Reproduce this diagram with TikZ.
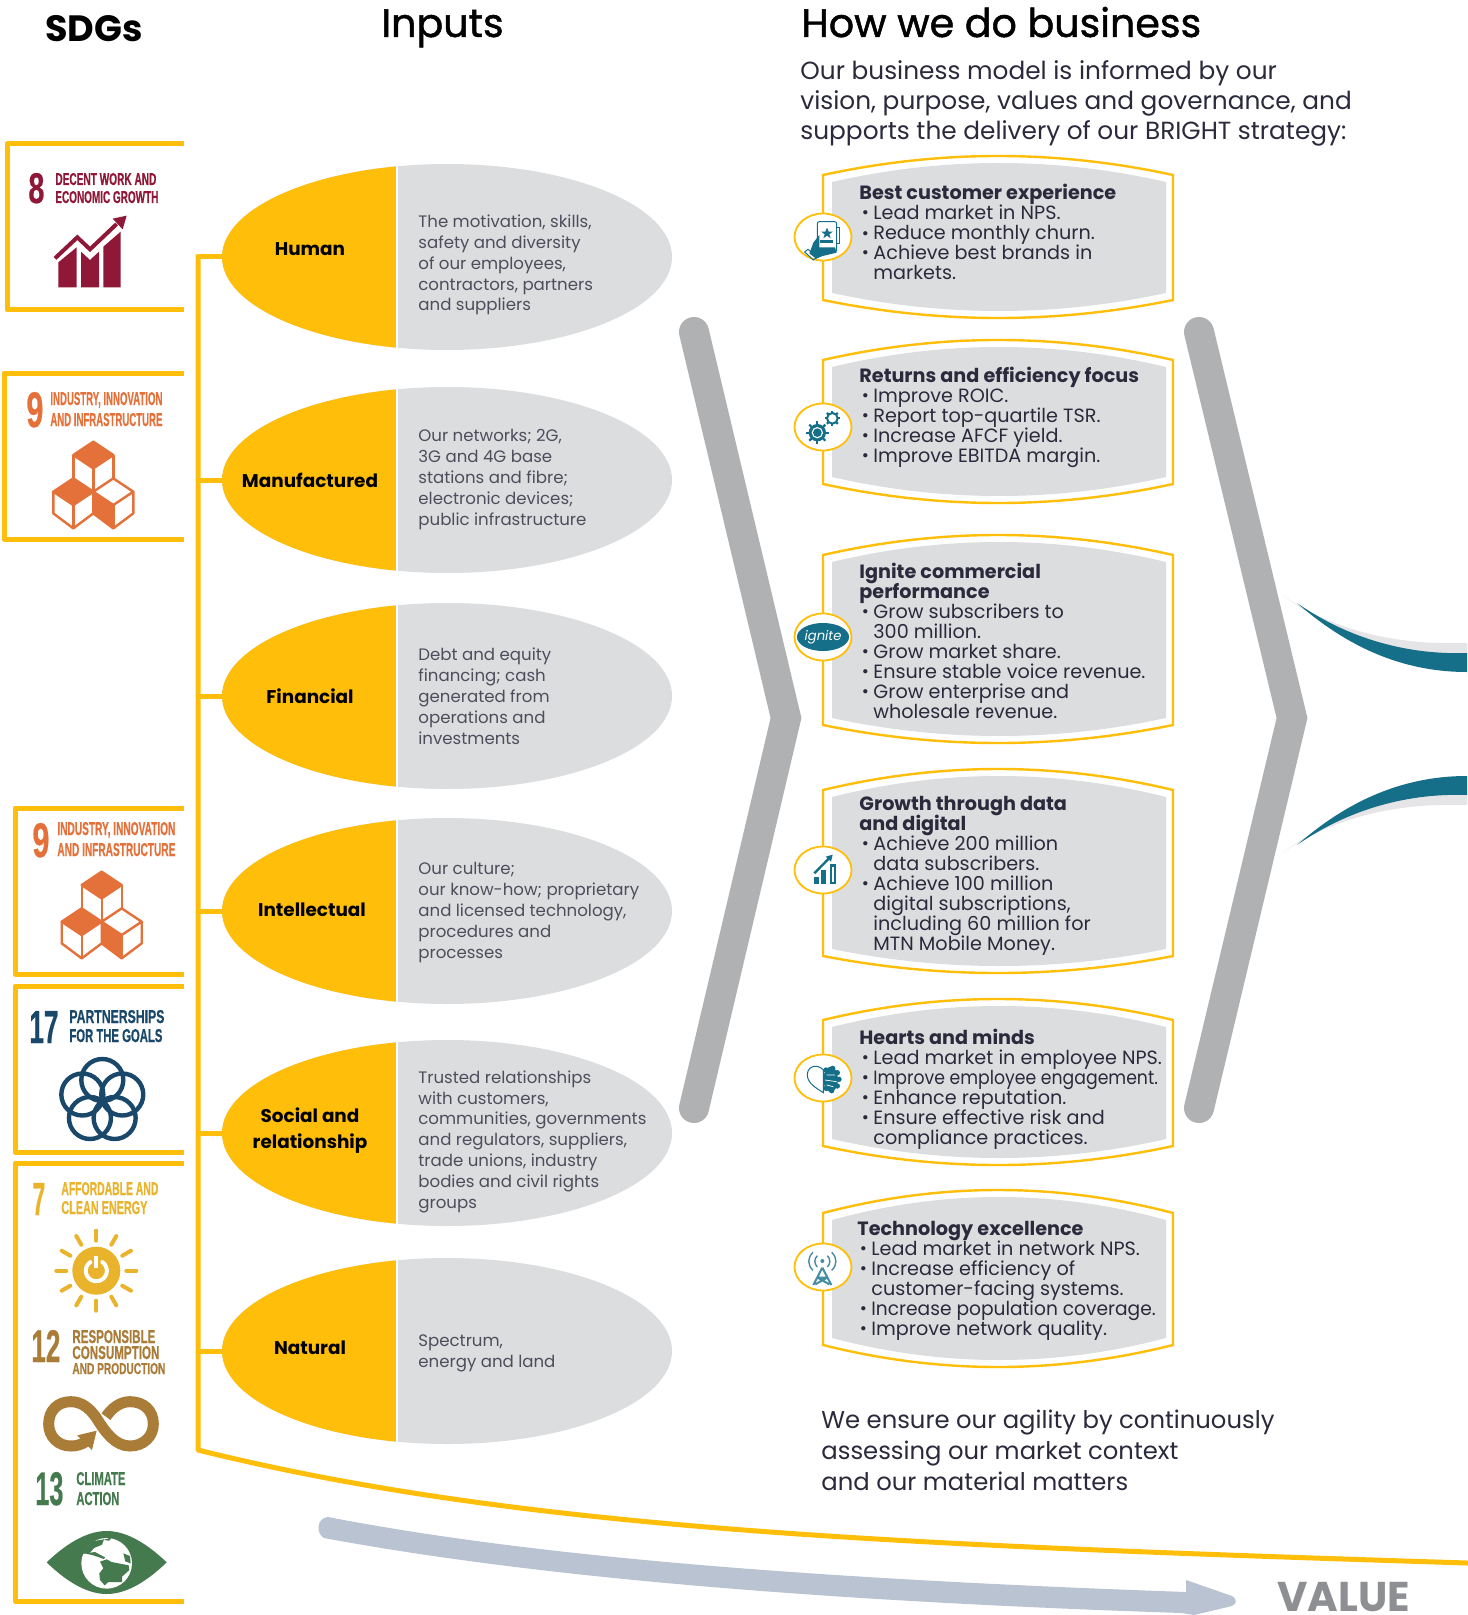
\documentclass[tikz,border=0pt]{standalone}
\usepackage{fontspec}
\usepackage{graphicx}
\setmainfont{Poppins}
\newfontfamily\narrowf[BoldFeatures={FakeBold=0.6}]{Liberation Sans}
\newfontfamily\medf[FakeBold=1.2]{Poppins}
\usetikzlibrary{shapes.geometric}
\definecolor{mtny}{HTML}{FFBE0A}
\definecolor{capg}{HTML}{DCDDDF}
\definecolor{chevg}{HTML}{B0B1B3}
\definecolor{mteal}{HTML}{156F89}
\definecolor{arrowb}{HTML}{B9C3D2}
\definecolor{inkd}{HTML}{2A2A3C}
\definecolor{inkm}{HTML}{4D4D5C}
\definecolor{valg}{HTML}{8E8F92}
\definecolor{sdgviii}{HTML}{8F1838}
\definecolor{sdgix}{HTML}{E4703A}
\definecolor{sdgxvii}{HTML}{19486A}
\definecolor{sdgvii}{HTML}{E9B32C}
\definecolor{sdgxii}{HTML}{A97C37}
\definecolor{sdgxiii}{HTML}{447A4E}
\lineskiplimit=-20pt
\normallineskiplimit=-20pt
\tikzset{
  yline/.style={draw=mtny,line width=2.5pt},
  sdgframe/.style={draw=mtny,line width=2.5pt,line join=round},
  chev/.style={draw=chevg,line width=15pt,line cap=round,miter limit=10},
  capshape/.style={ellipse,minimum width=225pt,minimum height=93pt,inner sep=0pt,fill=capg},
  captext/.style={anchor=base west,inner sep=0pt,align=left,text=inkm,font=\fontsize{8.3}{10.4}\selectfont},
  caplabel/.style={inner sep=0pt,align=center,text=black,font=\fontsize{9.2}{13}\selectfont\bfseries},
  boxtext/.style={anchor=base west,inner sep=0pt,align=left,text=inkd,font=\fontsize{9.6}{10}\selectfont},
  iconring/.style={ellipse,draw=mtny,fill=white,line width=.9pt,minimum width=28.5pt,minimum height=23.5pt,inner sep=0pt},
  headtext/.style={anchor=base west,inner sep=0pt,text=black,font=\fontsize{19.8}{22}\selectfont\medf},
  bodytext/.style={anchor=base west,inner sep=0pt,align=left,text=inkd},
  zscope/.style n args={2}{shift={(#1,#2)},scale=1/3},
}
\newcounter{fitn}
\newcommand\fitt[6]{% x, baseline, width, height, colour, text
  \stepcounter{fitn}%
  \node[anchor=base west,inner sep=0pt,text=#5] (fit\thefitn) at (#1,#2)
    {\resizebox{\dimexpr#3pt/2\relax}{\dimexpr#4pt/2\relax}{\narrowf\bfseries #6}};}
\newcommand\capsule[2]{% name, y
  \node[capshape] (#1) at (447,#2) {};
  \begin{scope}
    \clip (200,#2-100) rectangle (396,#2+100);
    \fill[mtny] (447,#2) ellipse [x radius=225,y radius=93];
  \end{scope}
  \fill[white] (396,#2-96) rectangle (398,#2+96);
  \draw[yline] (trunktop|-#1.west) -- (#1.west);}
\newcommand\mtnbox[4]{% peak, top corner, bottom corner, bottom
  \fill[capg] (832,#2+7) .. controls (943,{#2+7+(#1-#2)/.75}) and (1055,{#2+7+(#1-#2)/.75}) .. (1166,#2+7)
     -- (1166,#3-7) .. controls (1055,{#3-7+(#4-#3)/.75}) and (943,{#3-7+(#4-#3)/.75}) .. (832,#3-7) -- cycle;
  \draw[draw=mtny,line width=1.2pt] (823,#2) .. controls (940,{#2+(#1-#2)/.75}) and (1056,{#2+(#1-#2)/.75}) .. (1173,#2)
     -- (1173,#3) .. controls (1056,{#3+(#4-#3)/.75}) and (940,{#3+(#4-#3)/.75}) .. (823,#3) -- cycle;}
\newcommand\blt{\hspace*{1.2pt}\makebox[5.8pt][l]{\raisebox{.5pt}{\scalebox{.9}{•}}}}
\newcommand\ind{\hspace*{7pt}}
\newcommand\sdgcubes[2]{%
  \begin{scope}[zscope={#1}{#2},draw=sdgix,fill=sdgix,line width=1.2pt,line join=round]
    \fill (0,0) -- (60,40) -- (0,80) -- (-60,40) -- cycle;
    \fill (-60,110) -- (0,150) -- (-60,190) -- (-120,150) -- cycle;
    \fill (0,150) -- (60,190) -- (60,260) -- (0,215) -- cycle;
    \draw (0,0) -- (60,40) -- (0,80) -- (-60,40) -- cycle;
    \draw (-60,40) -- (-60,110) (60,40) -- (60,110) (0,80) -- (0,150);
    \draw (-60,110) -- (-120,150) -- (-60,190) -- (0,150) -- cycle;
    \draw (-120,150) -- (-120,215) -- (-60,260) -- (0,215) -- (0,150);
    \draw (-60,190) -- (-60,260);
    \draw (60,110) -- (120,150) -- (60,190) -- (0,150) -- cycle;
    \draw (120,150) -- (120,215) -- (60,260) -- (0,215);
    \draw (60,190) -- (60,260);
  \end{scope}}
\newcommand\gearicon[5]{% x, y, r, toothlen, filled
  \foreach \a in {0,45,...,315}
    \draw[mteal,line width=1.1pt] ({#1+#3*cos(\a)},{#2+#3*sin(\a)}) -- ({#1+(#3+#4)*cos(\a)},{#2+(#3+#4)*sin(\a)});
  #5}
\begin{document}
\begin{tikzpicture}[x=.5pt,y=-.5pt]
\useasboundingbox (0,0) rectangle (1467,1615);
\fill[white] (0,0) rectangle (1467,1615);

% headings
\node[anchor=base west,inner sep=0pt,font=\fontsize{18.3}{20}\selectfont\bfseries] (hsdg) at (45,42) {SDGs};
\node[headtext] (hinputs) at (381,37) {Inputs};
\node[headtext] (hhow) at (801,37) {How we do business};
\node[bodytext,font=\fontsize{12.4}{15}\selectfont] (hsub) at (800,140)
 {Our business model is informed by our\\vision, purpose, values and governance, and\\supports the delivery of our BRIGHT strategy:};

% chevrons
\draw[chev] (694,332) -- (786,718) -- (694,1108);
\draw[chev] (1199,332) -- (1292,718) -- (1199,1108);

% swooshes
\fill[capg!75] (1282,595) .. controls (1340,635) and (1405,645) .. (1467,643) -- (1467,656) .. controls (1400,656) and (1345,640) .. cycle;
\fill[capg!75] (1282,853) .. controls (1340,813) and (1405,803) .. (1467,805) -- (1467,792) .. controls (1400,792) and (1345,808) .. cycle;
\fill[mteal] (1297,603) .. controls (1350,640) and (1410,655) .. (1467,653) -- (1467,672) .. controls (1400,672) and (1345,645) .. cycle;
\fill[mteal] (1297,845) .. controls (1350,808) and (1410,793) .. (1467,795) -- (1467,776) .. controls (1400,776) and (1345,803) .. cycle;

% trunk and capitals
\coordinate (trunktop) at (198,257);
\coordinate (trunkend) at (1467,1563);
\draw[yline,line join=round,line cap=rect] (trunktop) -- (198,1450) .. controls (520,1530) and (900,1545) .. (trunkend);
\capsule{human}{257}
\capsule{manuf}{480}
\capsule{finan}{696}
\capsule{intel}{911}
\capsule{socia}{1133}
\capsule{natur}{1351}
\node[caplabel] (lhuman) at (310,249) {Human};
\node[caplabel] (lmanuf) at (310,480) {Manufactured};
\node[caplabel] (lfinan) at (310,696) {Financial};
\node[caplabel] (lintel) at (312,910) {Intellectual};
\node[caplabel] (lsocia) at (310,1131) {Social and\\relationship};
\node[caplabel] (lnatur) at (310,1348) {Natural};
\node[captext] (thuman) at (418,311) {The motivation, skills,\\safety and diversity\\of our employees,\\contractors, partners\\and suppliers};
\node[captext] (tmanuf) at (418,525) {Our networks; 2G,\\3G and 4G base\\stations and fibre;\\electronic devices;\\public infrastructure};
\node[captext] (tfinan) at (418,744) {Debt and equity\\financing; cash\\generated from\\operations and\\investments};
\node[captext] (tintel) at (418,958) {Our culture;\\our know-how; proprietary\\and licensed technology,\\procedures and\\processes};
\node[captext] (tsocia) at (418,1208) {Trusted relationships\\with customers,\\communities, governments\\and regulators, suppliers,\\trade unions, industry\\bodies and civil rights\\groups};
\node[captext] (tnatur) at (418,1367) {Spectrum,\\energy and land};

% business boxes
\mtnbox{156}{175}{300}{318}
\mtnbox{340}{360}{484}{503}
\mtnbox{535}{555}{725}{743}
\mtnbox{769}{790}{956}{973}
\mtnbox{999}{1020}{1146}{1165}
\mtnbox{1190}{1213}{1345}{1367}
\node[boxtext] (b1) at (859,280) {\textbf{Best customer experience}\\\blt Lead market in NPS.\\\blt Reduce monthly churn.\\\blt Achieve best brands in\\\ind markets.};
\node[boxtext] (b2) at (859,462) {\textbf{Returns and efficiency focus}\\\blt Improve ROIC.\\\blt Report top-quartile TSR.\\\blt Increase AFCF yield.\\\blt Improve EBITDA margin.};
\node[boxtext] (b3) at (859,718) {\textbf{Ignite commercial}\\\textbf{performance}\\\blt Grow subscribers to\\\ind 300 million.\\\blt Grow market share.\\\blt Ensure stable voice revenue.\\\blt Grow enterprise and\\\ind wholesale revenue.};
\node[boxtext] (b4) at (859,950) {\textbf{Growth through data}\\\textbf{and digital}\\\blt Achieve 200 million\\\ind data subscribers.\\\blt Achieve 100 million\\\ind digital subscriptions,\\\ind including 60 million for\\\ind MTN Mobile Money.};
\node[boxtext] (b5) at (859,1144) {\textbf{Hearts and minds}\\\blt Lead market in employee NPS.\\\blt \scalebox{.9}[1]{Improve employee engagement.}\\\blt Enhance reputation.\\\blt Ensure effective risk and\\\ind compliance practices.};
\node[boxtext] (b6) at (857,1335) {\textbf{Technology excellence}\\\blt Lead market in network NPS.\\\blt Increase efficiency of\\\ind customer-facing systems.\\\blt \scalebox{.97}[1]{Increase population coverage.}\\\blt Improve network quality.};

% icons
\node[iconring] (i1) at (823,237) {};
\node[iconring] (i2) at (823,427) {};
\node[iconring] (i3) at (823,637) {};
\node[iconring] (i4) at (823,870) {};
\node[iconring] (i5) at (823,1078) {};
\node[iconring] (i6) at (823,1267) {};
% phone in hand
\begin{scope}[zscope={780}{140}]
  \draw[mteal,line width=.5pt,rounded corners=1pt] (112,245) rectangle (170,335);
  \draw[mteal,line width=.5pt] (170,262) -- (178,262) -- (178,310) -- (170,310);
  \fill[mteal] (141,263) -- (146,275) -- (158,275) -- (148,283) -- (152,295) -- (141,287) -- (130,295) -- (134,283) -- (124,275) -- (136,275) -- cycle;
  \fill[mteal] (120,300) rectangle (160,308);
  \fill[mteal] (88,340) -- (100,308) -- (118,285) -- (118,322) -- (165,322) -- (170,338) -- (128,348) -- (108,356) -- cycle;
  \draw[mteal,line width=.5pt] (74,336) -- (84,328) -- (112,352) -- (100,360) -- cycle;
\end{scope}
% gears
\begin{scope}[zscope={780}{140}]
  \gearicon{112}{878}{25}{9}{\fill[mteal] (112,878) circle[radius=26]; \fill[white] (112,878) circle[radius=17]; \fill[mteal] (112,878) circle[radius=13];}
  \gearicon{157}{835}{16}{7}{\draw[mteal,line width=1pt,fill=white] (157,835) circle[radius=16];}
\end{scope}
% ignite
\node[ellipse,fill=mteal,minimum width=22pt,minimum height=14pt,inner sep=0pt,text=white,font=\fontsize{6.6}{7}\selectfont\itshape] (ign) at (i3) {ignite};
% chart
\begin{scope}[zscope={780}{760}]
  \fill[mteal] (102,350) rectangle (116,372);
  \fill[mteal] (124,330) rectangle (138,372);
  \fill[mteal] (150,312) rectangle (168,372);
  \fill[white] (156,320) rectangle (162,366);
  \draw[mteal,line width=1.2pt] (103,340) -- (148,294);
  \fill[mteal] (158,284) -- (153,305) -- (137,290) -- cycle;
\end{scope}
% heart and brain
\begin{scope}[zscope={780}{760}]
  \draw[mteal,line width=.5pt] (130,930) .. controls (115,912) and (82,915) .. (82,945) .. controls (82,970) and (110,985) .. (130,998) -- cycle;
  \fill[mteal] (152,958) ellipse [x radius=22,y radius=38];
  \foreach \p/\q in {138/930,158/925,172/938,177/958,172/978,155/992,138/985}
    \fill[mteal] (\p,\q) circle[radius=8];
  \draw[white,line width=.35pt] (140,945) -- (165,945) (135,960) -- (170,965) (140,975) -- (160,980);
\end{scope}
% antenna
\begin{scope}[zscope={780}{1185},draw=mteal!80,line width=.7pt]
  \fill[mteal!80] (127,228) circle[radius=6];
  \draw (112,212) .. controls (102,222) and (102,236) .. (112,246);
  \draw (142,212) .. controls (152,222) and (152,236) .. (142,246);
  \draw (99,202) .. controls (82,218) and (82,240) .. (99,256);
  \draw (155,202) .. controls (172,218) and (172,240) .. (155,256);
  \draw[line width=1pt] (127,248) -- (100,300) (127,248) -- (154,300) (113,278) -- (141,278) (106,298) -- (141,278) (148,298) -- (113,278);
\end{scope}

% bottom text
\node[bodytext,font=\fontsize{12.15}{15.5}\selectfont] (agile) at (821,1490) {We ensure our agility by continuously\\assessing our market context\\and our material matters};
% value arrow
\fill[arrowb] (328,1517) .. controls (550,1560) and (850,1580) .. (1186,1592) -- (1186,1580)
  -- (1232,1596) .. controls (1238,1600) and (1236,1604) .. (1232,1606) -- (1194,1615) -- (1182,1613)
  .. controls (850,1602) and (550,1580) .. (324,1538) .. controls (316,1534) and (316,1518) .. (328,1517) -- cycle;
\node[anchor=base west,inner sep=0pt,text=valg,font=\fontsize{20.8}{22}\selectfont\bfseries] (val) at (1277,1611) {VALUE};

% SDG frames
\draw[sdgframe] (184,144) -- (7,144) -- (7,310) -- (184,310);
\draw[sdgframe] (184,373) -- (4,373) -- (4,539) -- (184,539);
\draw[sdgframe] (184,808) -- (15,808) -- (15,974) -- (184,974);
\draw[sdgframe] (184,986) -- (15,986) -- (15,1152) -- (184,1152);
\draw[sdgframe] (184,1163) -- (15,1163) -- (15,1601) -- (184,1601);

% SDG 8
\fitt{28}{203}{16}{30}{sdgviii}{8}
\fitt{55}{185}{101}{12}{sdgviii}{DECENT WORK AND}
\fitt{55}{203}{103}{12}{sdgviii}{ECONOMIC GROWTH}
\begin{scope}[zscope={0}{130}]
  \fill[sdgviii] (175,472) -- (175,397) -- (230,352) -- (230,472) -- cycle;
  \fill[sdgviii] (243,472) -- (243,365) -- (270,390) -- (297,365) -- (297,472) -- cycle;
  \fill[sdgviii] (310,472) -- (310,350) -- (362,305) -- (362,472) -- cycle;
  \draw[sdgviii,line width=2pt] (165,385) -- (232,322) -- (270,358) -- (350,282);
  \fill[sdgviii] (380,257) -- (338,266) -- (368,298) -- cycle;
\end{scope}
% SDG 9 (upper)
\fitt{26}{427}{17}{35}{sdgix}{9}
\fitt{50}{405}{112}{13}{sdgix}{INDUSTRY, INNOVATION}
\fitt{50}{426}{112}{13}{sdgix}{AND INFRASTRUCTURE}
\sdgcubes{93.3}{441.7}
% SDG 9 (lower)
\fitt{32}{857}{17}{34}{sdgix}{9}
\fitt{57}{835}{118}{13}{sdgix}{INDUSTRY, INNOVATION}
\fitt{57}{856}{118}{13}{sdgix}{AND INFRASTRUCTURE}
\sdgcubes{101.7}{871.7}
% SDG 17
\fitt{29}{1043}{29}{32}{sdgxvii}{17}
\fitt{69}{1023}{95}{13}{sdgxvii}{PARTNERSHIPS}
\fitt{69}{1042}{93}{13}{sdgxvii}{FOR THE GOALS}
\foreach \a in {-90,-18,54,126,198}
  \draw[sdgxvii,line width=2.2pt] ({102.3+21*cos(\a)},{1101+21*sin(\a)}) circle[radius=21];
% SDG 7
\fitt{32}{1215}{13}{32}{sdgvii}{7}
\fitt{61}{1195}{97}{13}{sdgvii}{AFFORDABLE AND}
\fitt{61}{1214}{86}{13}{sdgvii}{CLEAN ENERGY}
\fill[sdgvii] (96.3,1270.7) circle[radius=24];
\foreach \a in {0,30,...,330}
  \draw[sdgvii,line width=2pt,line cap=round] ({96.3+30*cos(\a)},{1270.7+30*sin(\a)}) -- ({96.3+40*cos(\a)},{1270.7+40*sin(\a)});
\draw[white,line width=2pt,line cap=round] plot[domain=-55:235,samples=30] ({96.3+10.5*cos(\x)},{1270.7+10.5*sin(\x)});
\draw[white,line width=2pt] (96.3,1256) -- (96.3,1268);
% SDG 12
\fitt{31}{1362}{29}{32}{sdgxii}{12}
\fitt{72}{1343}{83}{13}{sdgxii}{RESPONSIBLE}
\fitt{72}{1359}{87}{13}{sdgxii}{CONSUMPTION}
\fitt{72}{1374}{93}{11}{sdgxii}{AND PRODUCTION}
\begin{scope}[zscope={0}{1150}]
  \draw[sdgxii,line width=5.5pt] (262,872) .. controls (245,884) and (230,888) .. (212,888)
     .. controls (175,888) and (146,860) .. (146,822) .. controls (146,780) and (175,755) .. (212,755)
     .. controls (245,755) and (270,775) .. (290,805) .. controls (315,845) and (345,888) .. (390,888)
     .. controls (430,888) and (460,860) .. (460,822) .. controls (460,780) and (430,755) .. (390,755)
     .. controls (360,755) and (335,775) .. (318,800);
  \fill[sdgxii] (290,842) -- (232,856) -- (276,900) -- cycle;
\end{scope}
% SDG 13
\fitt{35}{1505}{28}{33}{sdgxiii}{13}
\fitt{76}{1485}{49}{13}{sdgxiii}{CLIMATE}
\fitt{76}{1505}{43}{13}{sdgxiii}{ACTION}
\begin{scope}[zscope={0}{1150}]
  \fill[sdgxiii] (140,1237) .. controls (210,1170) and (270,1143) .. (320,1143) .. controls (370,1143) and (430,1170) .. (500,1237)
     .. controls (430,1305) and (370,1332) .. (320,1332) .. controls (270,1332) and (210,1305) .. (140,1237) -- cycle;
\end{scope}
\begin{scope}[zscope={40}{1520}]
  \fill[white] (200,130) circle[radius=76];
  \begin{scope}
    \clip (200,130) circle[radius=77];
    \fill[sdgxiii] (125,90) -- (150,65) -- (192,58) -- (186,74) -- (162,84) -- (150,98) -- (128,102) -- cycle;
    \fill[sdgxiii] (135,100) -- (165,96) -- (195,112) -- (192,117) -- (160,106) -- cycle;
    \fill[sdgxiii] (180,125) -- (200,118) -- (215,126) -- (235,130) -- (266,136) -- (268,150) -- (246,170) -- (246,186) -- (205,186) -- (194,196) -- (180,180) -- (178,160) -- (190,145) -- cycle;
    \fill[sdgxiii] (250,100) -- (270,108) -- (272,130) -- (256,124) -- cycle;
    \fill[sdgxiii] (190,60) -- (215,52) -- (208,62) -- cycle;
  \end{scope}
\end{scope}
\end{tikzpicture}
\end{document}
